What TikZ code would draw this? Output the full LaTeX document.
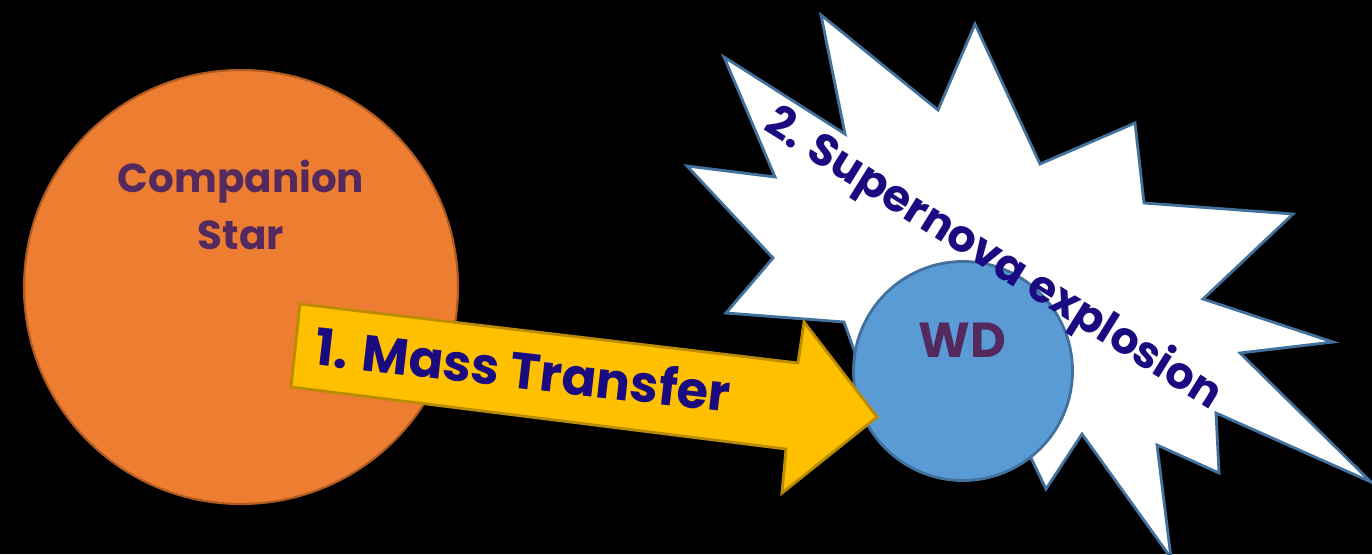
\documentclass[tikz,border=0pt]{standalone}
\usepackage{fontspec}
\newfontfamily\comicfont{Poppins}
\usepackage{tikz}
\usetikzlibrary{positioning}
\definecolor{starorange}{HTML}{ED7D31}
\definecolor{stardark}{HTML}{AE5A21}
\definecolor{flowyellow}{HTML}{FFC000}
\definecolor{flowdark}{HTML}{BC8C00}
\definecolor{wdblue}{HTML}{5B9BD5}
\definecolor{wdline}{HTML}{41719C}
\definecolor{plum}{HTML}{542A5E}
\definecolor{inkblue}{HTML}{1A0B80}

\begin{document}
\begin{tikzpicture}[x=1cm, y=1cm,
  cmc/.style={font=\comicfont\bfseries\fontsize{#1}{16}\selectfont, align=center, inner sep=0pt}]
\useasboundingbox (0,0) rectangle (13.72,5.54);
\fill[black] (0,0) rectangle (13.72,5.54);
% ---- companion star -----------------------------------------------
\node[circle, draw=stardark, fill=starorange, line width=0.6pt,
      minimum size=4.34cm, inner sep=0pt] (comp) at (2.41,2.67) {};
\node[cmc=11.5, plum] (complbl) at (2.41,3.49) {Companion\\Star};
% ---- explosion burst ----------------------------------------------
\draw[wdline, fill=white, line width=0.8pt, line join=miter]
  (7.24,4.97) -- (8.45,4.20) -- (8.21,5.39) -- (9.38,4.44) -- (9.75,5.30)
  -- (10.40,3.90) -- (11.35,4.31) -- (11.44,3.51) -- (12.93,3.40)
  -- (12.03,2.55) -- (13.33,2.12) -- (12.40,2.01) -- (13.71,0.72)
  -- (12.16,1.41) -- (12.19,0.81) -- (11.57,1.09) -- (11.71,-0.04)
  -- (10.82,1.20) -- (10.46,0.65) -- (10.16,1.27) -- (8.70,1.59)
  -- (8.44,2.32) -- (7.26,2.41) -- (7.73,2.96) -- (6.87,3.88)
  -- (7.75,3.77) -- cycle;
% ---- white dwarf --------------------------------------------------
\node[circle, draw=wdline, fill=wdblue, line width=0.8pt,
      minimum size=2.19cm, inner sep=0pt] (wd) at (9.63,1.83) {};
\node[cmc=14, plum] (wdlbl) at (9.62,2.14) {WD};
\node[cmc=12.6, inkblue, rotate=-32] (snlbl) at (9.93,2.94)
      {2. Supernova explosion};
% ---- mass transfer arrow ------------------------------------------
\draw[flowdark, fill=flowyellow, line width=0.8pt, line join=miter]
  (3.00,2.50) -- (7.98,1.91) -- (8.04,2.32) -- (8.77,1.37)
  -- (7.82,0.61) -- (7.86,1.05) -- (2.91,1.67) -- cycle;
\node[cmc=14.5, inkblue, rotate=-6.5] (mtlbl) at (5.23,1.85)
      {1. Mass Transfer};
\end{tikzpicture}
\end{document}
